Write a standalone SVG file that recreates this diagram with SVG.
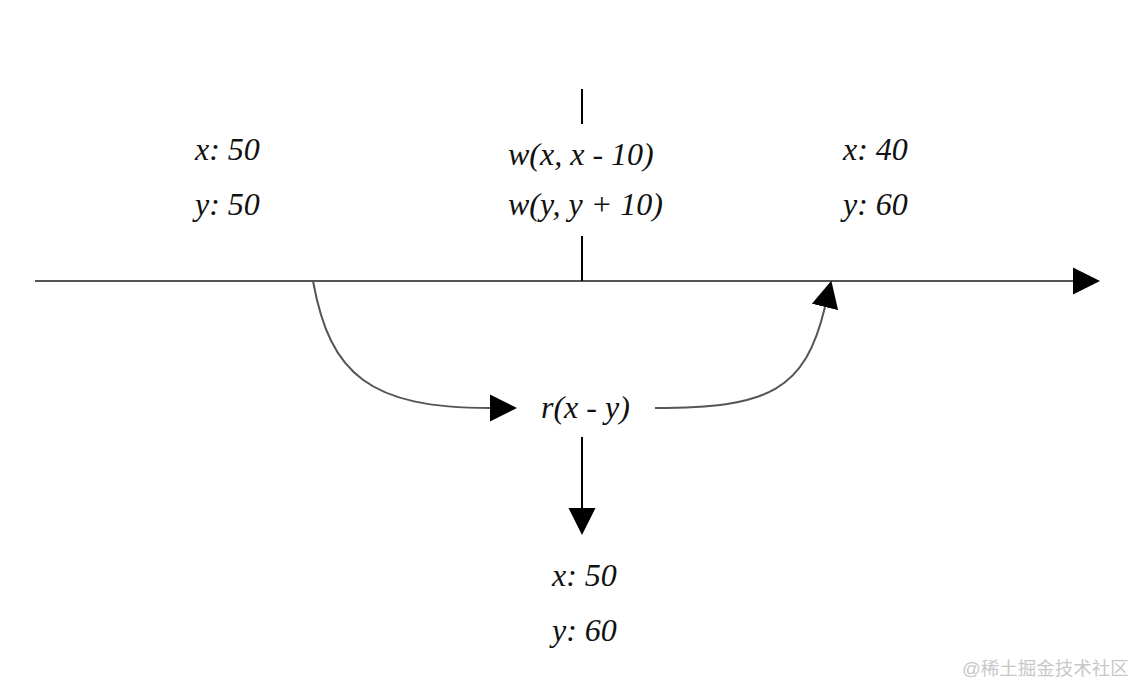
<svg xmlns="http://www.w3.org/2000/svg" width="1145" height="700" viewBox="0 0 1145 700">
<style>
.t{font-family:"Liberation Serif","Times New Roman",serif;font-style:italic;font-size:32px;fill:#111}
.ln{stroke:#555;stroke-width:2;fill:none}
.blk{stroke:#000;stroke-width:2;fill:none}
.wm{font-family:"Liberation Sans","Noto Sans CJK SC",sans-serif;font-size:18.5px;fill:#c8c8c8}
</style>
<defs>
<marker id="ah" viewBox="0 0 10 10" refX="0" refY="5" markerWidth="27" markerHeight="30" markerUnits="userSpaceOnUse" orient="auto">
<path d="M0,0 L10,5 L0,10 Z" fill="#000"/>
</marker>
</defs>
<rect width="1145" height="700" fill="#fff"/>
<g id="connectors">
<path class="ln" d="M35,281 H1073" marker-end="url(#ah)"/>
<path class="blk" d="M582,89 V124"/>
<path class="blk" d="M582,236 V281"/>
<path class="ln" d="M313,281 C330,375 370,408 490,408" marker-end="url(#ah)"/>
<path class="ln" d="M655,408 C770,408 805,390 825,307" marker-end="url(#ah)"/>
<path class="blk" d="M582,437 V508" marker-end="url(#ah)"/>
</g>
<g id="state-start">
<text class="t" x="195" y="160">x: 50</text>
<text class="t" x="195" y="215">y: 50</text>
</g>
<g id="writes">
<text class="t" x="508" y="165">w(x, x - 10)</text>
<text class="t" x="508" y="215">w(y, y + 10)</text>
</g>
<g id="state-end">
<text class="t" x="843" y="160">x: 40</text>
<text class="t" x="843" y="215">y: 60</text>
</g>
<g id="read">
<text class="t" x="541" y="418">r(x - y)</text>
</g>
<g id="state-read">
<text class="t" x="552" y="586">x: 50</text>
<text class="t" x="552" y="641">y: 60</text>
</g>
<text class="wm" x="962" y="675">@稀土掘金技术社区</text>
</svg>
